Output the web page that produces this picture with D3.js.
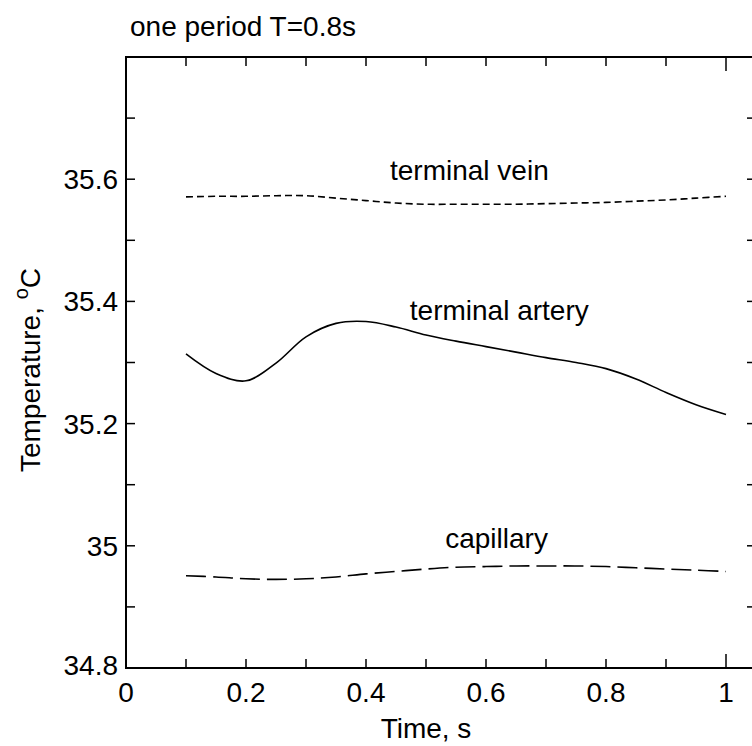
<!DOCTYPE html>
<html><head><meta charset="utf-8">
<script src="https://cdn.jsdelivr.net/npm/d3@7"></script>
<style>body{margin:0;background:#fff}svg{display:block}text{font-family:"Liberation Sans",Arial,Helvetica,sans-serif;fill:#000}</style>
</head><body>
<script>
const time = [0.1,0.15,0.2,0.25,0.3,0.35,0.4,0.45,0.5,0.55,0.6,0.65,0.7,0.75,0.8,0.85,0.9,0.95,1.0];
const terminalVein = [35.571,35.572,35.572,35.573,35.573,35.569,35.565,35.561,35.559,35.559,35.559,35.559,35.560,35.561,35.562,35.564,35.566,35.569,35.572];
const terminalArtery = [35.314,35.282,35.270,35.299,35.342,35.364,35.367,35.358,35.345,35.335,35.326,35.317,35.308,35.300,35.290,35.273,35.251,35.231,35.215];
const capillary = [34.951,34.949,34.946,34.945,34.946,34.949,34.954,34.958,34.962,34.965,34.966,34.967,34.967,34.967,34.966,34.964,34.962,34.960,34.958];
const seriesNames = ["terminal vein","terminal artery","capillary"];
const labelTime = [0.44,0.473,0.532];
const labelTemp = [35.599,35.370,34.996];
const xTickValues = [0,0.2,0.4,0.6,0.8,1];
const xTickLabels = ["0","0.2","0.4","0.6","0.8","1"];
const yTickValues = [34.8,35,35.2,35.4,35.6];
const yTickLabels = ["34.8","35","35.2","35.4","35.6"];
const xMinor = [0.1,0.3,0.5,0.7,0.9];
const yMinor = [34.9,35.1,35.3,35.5,35.7];
const title = "one period T=0.8s";

const W=752,H=746;
const m={left:126,top:57,right:756,bottom:668};
const x=d3.scaleLinear().domain([0,1.05]).range([m.left,m.right]);
const y=d3.scaleLinear().domain([34.8,35.8]).range([m.bottom,m.top]);
const svg=d3.select("body").append("svg").attr("width",W).attr("height",H);

svg.append("rect").attr("x",m.left).attr("y",m.top).attr("width",m.right-m.left).attr("height",m.bottom-m.top)
  .attr("fill","none").attr("stroke","#000").attr("stroke-width",2);

const tk=svg.append("g").attr("stroke","#000").attr("stroke-width",1.5);
const allX=xTickValues.concat(xMinor).filter(v=>v>0);
allX.forEach(v=>{
  const L = v===1?14:9;
  tk.append("line").attr("x1",x(v)).attr("x2",x(v)).attr("y1",m.bottom).attr("y2",m.bottom-L);
  tk.append("line").attr("x1",x(v)).attr("x2",x(v)).attr("y1",m.top).attr("y2",m.top+L);
});
const allY=yTickValues.concat(yMinor).filter(v=>v>34.8);
allY.forEach(v=>{
  tk.append("line").attr("y1",y(v)).attr("y2",y(v)).attr("x1",m.left).attr("x2",m.left+9);
  tk.append("line").attr("y1",y(v)).attr("y2",y(v)).attr("x1",m.right).attr("x2",m.right-9);
});

const FS=28;
xTickValues.forEach((v,i)=>{
  svg.append("text").attr("x",x(v)).attr("y",m.bottom+34).attr("text-anchor","middle").attr("font-size",FS).text(xTickLabels[i]);
});
yTickValues.forEach((v,i)=>{
  svg.append("text").attr("x",m.left-8).attr("y",y(v)+(v===34.8?7:10)).attr("text-anchor","end").attr("font-size",FS).text(yTickLabels[i]);
});

svg.append("text").attr("x",(x(0)+x(1))/2).attr("y",738).attr("text-anchor","middle").attr("font-size",FS).text("Time, s");
const yt=svg.append("text").attr("transform","translate(40,370) rotate(-90)").attr("text-anchor","middle").attr("font-size",FS);
yt.append("tspan").text("Temperature, ");
yt.append("tspan").attr("font-size",20).attr("dy",-12).text("o");
yt.append("tspan").attr("dy",12).text("C");

svg.append("text").attr("x",130).attr("y",36).attr("font-size",28).text(title);

const line=d3.line().x(d=>x(d[0])).y(d=>y(d[1])).curve(d3.curveCatmullRom.alpha(0.5));
const data=[terminalVein,terminalArtery,capillary];
const dashes=["7,4",null,"20,7"];
data.forEach((s,i)=>{
  svg.append("path").datum(time.map((t,j)=>[t,s[j]])).attr("d",line)
    .attr("fill","none").attr("stroke","#000").attr("stroke-width",1.6)
    .attr("stroke-dasharray",dashes[i]);
  svg.append("text").attr("x",x(labelTime[i])).attr("y",y(labelTemp[i])).attr("font-size",FS).text(seriesNames[i]);
});
</script>
</body></html>
